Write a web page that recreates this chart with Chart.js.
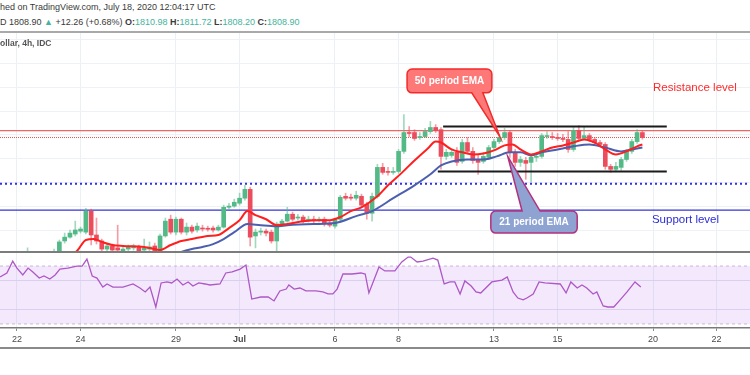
<!DOCTYPE html>
<html>
<head>
<meta charset="utf-8">
<script src="https://cdn.jsdelivr.net/npm/chart.js@4.4.1/dist/chart.umd.min.js"></script>
<style>
  html, body { margin: 0; padding: 0; background: #fff; }
  #wrap { position: relative; width: 750px; height: 375px; overflow: hidden; font-family: "Liberation Sans", Arial, sans-serif; }
  .txt { position: absolute; left: 0; white-space: nowrap; color: #3a3a3a; font-size: 9px; line-height: 12px; }
  .val { color: #45b39d; }
  .sep { position: absolute; left: 0; width: 750px; }
  canvas { position: absolute; left: 0; }
</style>
</head>
<body>
<div id="wrap">
  <div class="txt" style="top:1px">hed on TradingView.com, July 18, 2020 12:04:17 UTC</div>
  <div class="txt" style="top:16px">D 1808.90 <span class="val">&#9650;</span> +12.26 (+0.68%) <b>O:</b><span class="val">1810.98</span> <b>H:</b><span class="val">1811.72</span> <b>L:</b><span class="val">1808.20</span> <b>C:</b><span class="val">1808.90</span></div>
  <div class="sep" style="top:31px;height:2px;background:#a9a9a9"></div>
  <canvas id="main" width="750" height="218" style="top:33px"></canvas>
  <div class="txt" style="top:37px;color:#555;font-weight:bold;font-size:8.5px">ollar, 4h, IDC</div>
  <div class="sep" style="top:251px;height:2px;background:#7c7c7c"></div>
  <canvas id="rsi" width="750" height="96" style="top:253px"></canvas>
  <div class="sep" style="top:347px;height:2px;background:#8a8a8a"></div>
</div>
<script>
// bar index: 6 bars of 4h per trading day, 0 = Jun 22 00:00
const dateLabels = ['22', '24', '29', 'Jul', '6', '8', '13', '15', '20', '22'];
const dateIdx = [0, 12, 30, 42, 60, 72, 90, 102, 120, 132];
const xMin = -3.2, xMax = 138.3;

// candles (XAU/USD 4h)
const open = [1757.2, 1758.9, 1757.2, 1759.3, 1758.1, 1756.4, 1757.7, 1759.7, 1761.0, 1765.6,
  1767.2, 1768.5, 1769.7, 1769.3, 1778.1, 1768.1, 1765.6, 1762.2, 1763.5, 1762.7,
  1761.4, 1762.2, 1762.7, 1763.1, 1761.8, 1762.2, 1763.5, 1761.4, 1767.7, 1774.7,
  1769.3, 1774.7, 1769.3, 1771.4, 1770.2, 1771.0, 1770.6, 1771.0, 1770.2, 1771.4,
  1779.7, 1780.2, 1781.4, 1783.5, 1787.2, 1767.7, 1769.3, 1769.7, 1769.3, 1765.6,
  1772.7, 1773.9, 1776.8, 1775.2, 1775.6, 1774.3, 1774.7, 1774.3, 1774.7, 1773.1,
  1771.8, 1774.7, 1784.3, 1783.9, 1783.5, 1784.3, 1781.0, 1777.2, 1784.3, 1796.4,
  1794.7, 1794.3, 1794.7, 1803.1, 1811.0, 1811.0, 1808.9, 1809.3, 1811.4, 1813.1,
  1812.2, 1801.0, 1801.4, 1802.7, 1798.9, 1806.8, 1803.1, 1799.7, 1798.9, 1800.6,
  1804.7, 1807.2, 1808.9, 1811.0, 1802.7, 1798.5, 1799.3, 1798.5, 1800.6, 1801.0,
  1809.3, 1809.3, 1808.9, 1808.5, 1808.1, 1803.9, 1811.8, 1808.5, 1809.7, 1808.1,
  1806.8, 1806.0, 1796.8, 1795.6, 1796.4, 1799.7, 1803.1, 1807.2, 1810.98];
const high = [1760.2, 1759.7, 1762.7, 1760.6, 1758.9, 1758.5, 1760.6, 1762.2, 1766.0, 1768.9,
  1770.2, 1773.9, 1771.4, 1779.3, 1778.9, 1775.2, 1766.4, 1764.3, 1764.3, 1772.2,
  1763.1, 1763.9, 1764.3, 1763.9, 1766.4, 1765.2, 1764.7, 1768.5, 1775.2, 1776.4,
  1775.6, 1775.2, 1773.1, 1772.2, 1773.1, 1772.2, 1771.8, 1771.8, 1772.2, 1780.6,
  1781.4, 1783.1, 1785.6, 1788.9, 1788.1, 1770.6, 1771.0, 1770.6, 1770.2, 1773.5,
  1774.7, 1779.7, 1777.7, 1776.8, 1776.4, 1776.0, 1776.0, 1775.6, 1775.6, 1773.9,
  1775.2, 1784.7, 1785.6, 1785.2, 1786.4, 1785.2, 1781.8, 1785.6, 1797.7, 1798.1,
  1796.4, 1796.4, 1803.9, 1818.5, 1813.5, 1812.2, 1811.0, 1812.7, 1815.6, 1814.3,
  1813.1, 1803.9, 1803.9, 1804.7, 1808.1, 1808.9, 1804.7, 1801.8, 1802.7, 1805.6,
  1808.1, 1810.2, 1812.7, 1811.8, 1803.9, 1801.0, 1800.6, 1801.4, 1802.2, 1810.6,
  1811.4, 1811.0, 1810.6, 1810.2, 1811.4, 1813.1, 1813.9, 1813.5, 1810.6, 1808.9,
  1807.7, 1806.8, 1797.7, 1798.5, 1800.6, 1803.9, 1808.1, 1812.2, 1811.72];
const low = [1755.6, 1755.6, 1756.4, 1756.8, 1754.7, 1755.2, 1756.8, 1758.9, 1760.6, 1764.7,
  1766.8, 1767.7, 1768.9, 1768.5, 1763.9, 1764.3, 1761.0, 1761.4, 1760.6, 1761.0,
  1760.6, 1761.4, 1761.8, 1760.6, 1761.0, 1761.4, 1760.6, 1760.6, 1767.2, 1768.5,
  1768.1, 1768.5, 1768.1, 1768.9, 1769.3, 1769.7, 1769.7, 1769.3, 1769.7, 1771.0,
  1778.9, 1779.7, 1780.6, 1782.7, 1763.5, 1762.7, 1768.1, 1767.7, 1764.7, 1761.4,
  1771.8, 1773.5, 1773.9, 1774.3, 1773.1, 1773.5, 1773.1, 1773.5, 1771.8, 1771.4,
  1771.0, 1773.9, 1782.7, 1782.7, 1782.7, 1779.7, 1774.7, 1773.9, 1783.5, 1793.5,
  1793.1, 1793.5, 1793.9, 1802.2, 1809.3, 1807.7, 1808.1, 1808.9, 1810.6, 1811.0,
  1795.6, 1799.7, 1800.6, 1797.2, 1798.1, 1802.2, 1798.1, 1793.5, 1798.1, 1799.7,
  1803.9, 1806.4, 1808.1, 1800.6, 1796.8, 1796.8, 1791.4, 1790.2, 1798.9, 1800.2,
  1808.5, 1808.1, 1807.7, 1807.2, 1802.7, 1803.1, 1807.7, 1808.1, 1807.2, 1806.0,
  1805.2, 1795.6, 1794.3, 1794.7, 1795.2, 1798.9, 1802.2, 1806.4, 1808.2];
const close = [1758.9, 1757.2, 1759.3, 1758.1, 1756.4, 1757.7, 1759.7, 1761.0, 1765.2, 1767.2,
  1768.9, 1770.2, 1770.6, 1778.1, 1768.1, 1765.6, 1762.2, 1763.5, 1761.8, 1761.8,
  1762.2, 1763.1, 1763.5, 1761.4, 1762.7, 1763.1, 1761.4, 1767.7, 1773.9, 1769.3,
  1774.7, 1769.3, 1771.4, 1769.7, 1771.8, 1770.6, 1770.5, 1770.2, 1771.4, 1779.7,
  1780.2, 1781.8, 1783.5, 1787.2, 1767.2, 1769.3, 1769.7, 1768.9, 1765.6, 1772.7,
  1773.9, 1776.8, 1774.7, 1775.6, 1773.9, 1774.7, 1774.3, 1774.4, 1772.7, 1772.2,
  1774.7, 1783.9, 1783.5, 1783.5, 1784.7, 1780.6, 1777.2, 1784.3, 1796.4, 1794.3,
  1794.3, 1794.7, 1803.1, 1811.0, 1810.6, 1808.5, 1809.3, 1811.4, 1813.1, 1811.8,
  1801.0, 1802.7, 1802.7, 1798.5, 1806.8, 1803.1, 1799.3, 1798.5, 1801.0, 1804.7,
  1807.2, 1808.9, 1811.0, 1802.7, 1798.5, 1799.7, 1798.1, 1800.6, 1801.0, 1809.7,
  1809.4, 1808.9, 1808.5, 1808.1, 1803.9, 1811.8, 1808.5, 1809.7, 1808.1, 1806.8,
  1806.0, 1796.8, 1795.6, 1796.8, 1799.7, 1803.1, 1807.2, 1811.0, 1808.9];

// moving averages, read at their turning points (bar index, price)
const emaRedX = [0, 6, 11.3, 13, 14.5, 16, 18, 20, 24, 26, 27, 29, 31, 33, 36, 38, 40, 42, 43.5, 45, 47, 49,
  51, 54, 57, 59, 61, 63, 65, 68, 70, 72.5, 75, 77.5, 79, 80, 82, 84, 86, 88, 90, 92, 93.5, 95, 97,
  99, 101, 103, 105, 107, 109, 111, 113, 115, 117, 118];
const emaRedY = [1754.7, 1756.8, 1761.4, 1766.0, 1766.4, 1765.2, 1763.9, 1763.5, 1763.1, 1762.2, 1761.8,
  1763.9, 1765.6, 1766.4, 1767.7, 1768.1, 1771.0, 1774.3, 1778.1, 1776.4, 1774.7, 1772.2, 1772.7, 1773.9,
  1774.3, 1774.3, 1775.6, 1778.1, 1779.7, 1784.3, 1788.9, 1793.9, 1799.3, 1804.3, 1807.2, 1806.8, 1803.9,
  1802.7, 1801.8, 1802.2, 1803.5, 1805.6, 1806.0, 1803.9, 1801.8, 1803.1, 1804.7, 1805.6, 1806.8, 1808.1,
  1806.8, 1803.9, 1801.8, 1803.1, 1805.2, 1806.0];
const emaBlueX = [20, 29, 31, 33, 35, 37, 39, 41, 43.5, 46, 49, 51, 56, 60, 64, 67, 71, 75, 78, 80, 82, 85,
  88, 90.5, 93, 95, 97, 99, 102, 105, 108, 111, 114, 116, 118];
const emaBlueY = [1753.9, 1759.3, 1761.0, 1762.2, 1763.1, 1764.3, 1766.4, 1769.3, 1772.7, 1772.2, 1771.8,
  1772.2, 1772.7, 1773.1, 1776.0, 1778.1, 1783.5, 1788.9, 1793.5, 1797.2, 1798.9, 1799.7, 1799.7, 1801.0,
  1802.7, 1802.7, 1801.4, 1802.7, 1803.9, 1805.2, 1806.0, 1804.7, 1803.1, 1803.9, 1804.7];

// RSI(14), read at its vertices
const rsiX = [-3.2, -1.9, -0.8, 0, 1.1, 2.1, 3, 4.2, 5.1, 6.2, 7.2, 8.1, 9.6, 11.3, 12.3, 13.2, 14.2, 15.1,
  16.2, 17, 18.1, 20, 21.9, 23.2, 24.2, 25.1, 26.2, 27.2, 28.3, 29.2, 30.2, 31.3, 32.3, 33.2, 34.3, 35.5,
  36.4, 38.3, 39.4, 40.6, 42.1, 43.2, 44.3, 46, 47.4, 48.5, 49.6, 50.8, 51.3, 52.3, 53.4, 54.5, 56.4, 57.7,
  58.7, 59.6, 60.4, 61.5, 63.2, 64.9, 65.7, 66.4, 68.3, 69.4, 71.3, 72.6, 73.8, 74.3, 75.5, 76.6, 78.5,
  79.4, 80.6, 81.7, 82.6, 83.6, 84.5, 85.7, 86.6, 87.5, 89.6, 91.5, 92.5, 93.6, 94.5, 95.5, 96.2, 97.4,
  98.5, 99.6, 102.5, 103.6, 104.5, 105.7, 106.6, 107.5, 108.7, 109.4, 110.6, 111.5, 112.6, 113.8, 115.1,
  116.6, 117.7];
const rsiY = [62.4, 65.2, 73.4, 68.6, 63.8, 68.6, 65.9, 61.7, 63.1, 61.0, 63.8, 67.9, 68.6, 70.0, 70.0, 74.8,
  63.1, 61.7, 55.5, 57.6, 55.5, 55.5, 57.6, 54.8, 52.1, 55.5, 41.7, 58.3, 59.0, 58.3, 61.0, 56.9, 59.0,
  56.2, 58.3, 57.6, 56.9, 57.6, 65.2, 65.9, 67.9, 70.7, 47.2, 48.6, 48.6, 45.9, 52.8, 54.1, 56.9, 54.1,
  54.8, 52.8, 52.8, 52.1, 50.7, 50.7, 54.1, 64.5, 64.5, 65.2, 64.5, 51.4, 69.3, 66.6, 66.6, 72.8, 76.2,
  76.2, 72.8, 73.4, 75.5, 74.1, 57.6, 59.0, 59.0, 50.7, 59.7, 56.2, 52.1, 51.4, 59.0, 60.3, 62.4, 52.1,
  47.9, 46.6, 47.9, 50.7, 59.0, 58.3, 57.6, 51.4, 59.0, 54.8, 56.9, 54.8, 50.7, 52.1, 42.4, 41.7, 41.7,
  46.6, 52.1, 59.0, 55.5];

// drawn levels
const resistanceLevel = 1811.8;
const lastPrice = 1808.9;
const pivotLevel = 1789.5;
const supportLevel = 1778.5;
const channelTop = 1813.5, channelBottom = 1794.7;
const channelTopStart = 80.4, channelBottomStart = 79.4, channelEnd = 122.6;
const priceGrid = [1770, 1780, 1790, 1800, 1810, 1820, 1830, 1840, 1850];

const upBody = '#53b987', downBody = '#eb4d5c';
const upWick = 'rgba(83,185,135,0.55)', downWick = 'rgba(235,77,92,0.55)';
const font = '"Liberation Sans", Arial, sans-serif';

const idx = open.map((_, i) => i);
const pts = (xs, ys) => xs.map((x, i) => ({x: x, y: ys[i]}));
const flat = (v, a, b) => [{x: a, y: v}, {x: b, y: v}];
const isUp = i => close[i] >= open[i];

function callout(ctx, x, y, n, fill, stroke) {
  const x1 = x.getPixelForValue(n.from[0]), y1 = y.getPixelForValue(n.from[1]);
  const x2 = x.getPixelForValue(n.to[0]), y2 = y.getPixelForValue(n.to[1]);
  const b1 = x.getPixelForValue(n.base[0]), b2 = x.getPixelForValue(n.base[1]);
  const tx = x.getPixelForValue(n.tip[0]), ty = y.getPixelForValue(n.tip[1]);
  const r = 5;
  ctx.beginPath();
  ctx.moveTo(x1 + r, y1);
  if (n.side === 'top') { ctx.lineTo(b1, y1); ctx.lineTo(tx, ty); ctx.lineTo(b2, y1); }
  ctx.lineTo(x2 - r, y1);
  ctx.arcTo(x2, y1, x2, y1 + r, r);
  ctx.lineTo(x2, y2 - r);
  ctx.arcTo(x2, y2, x2 - r, y2, r);
  if (n.side === 'bottom') { ctx.lineTo(b2, y2); ctx.lineTo(tx, ty); ctx.lineTo(b1, y2); }
  ctx.lineTo(x1 + r, y2);
  ctx.arcTo(x1, y2, x1, y2 - r, r);
  ctx.lineTo(x1, y1 + r);
  ctx.arcTo(x1, y1, x1 + r, y1, r);
  ctx.closePath();
  ctx.fillStyle = fill;
  ctx.fill();
  ctx.lineWidth = 1.5;
  ctx.strokeStyle = stroke;
  ctx.stroke();
  ctx.fillStyle = '#fff';
  ctx.font = 'bold 10px ' + font;
  ctx.textAlign = 'center';
  ctx.textBaseline = 'middle';
  ctx.fillText(n.text, (x1 + x2) / 2, (y1 + y2) / 2 + 0.5);
}

const note50 = {text: '50 period EMA', from: [73.6, 1837.6], to: [89.6, 1827.6], base: [85.8, 87.9], tip: [91.1, 1809.3], side: 'bottom'};
const note21 = {text: '21 period EMA', from: [89.4, 1778.1], to: [105.7, 1768.9], base: [95.3, 98.7], tip: [92.6, 1801.0], side: 'top'};
const resistText = {text: 'Resistance level', at: [120, 1829.7]};
const supportText = {text: 'Support level', at: [119.8, 1774.3]};

const notesPlugin = {
  id: 'tvNotes',
  afterDatasetsDraw(chart) {
    const {ctx, scales: {x, y}} = chart;
    ctx.save();
    ctx.font = '11.5px ' + font;
    ctx.textBaseline = 'middle';
    ctx.textAlign = 'left';
    ctx.fillStyle = '#ff2a2a';
    ctx.fillText(resistText.text, x.getPixelForValue(resistText.at[0]), y.getPixelForValue(resistText.at[1]));
    ctx.fillStyle = '#2b2bd6';
    ctx.fillText(supportText.text, x.getPixelForValue(supportText.at[0]), y.getPixelForValue(supportText.at[1]));
    callout(ctx, x, y, note50, '#ff7878', '#f22a2a');
    callout(ctx, x, y, note21, '#8ea3d2', '#b3307e');
    ctx.restore();
  }
};

const hiddenX = {
  type: 'linear', min: xMin, max: xMax, offset: false,
  ticks: {display: false},
  grid: {color: '#ebf0f5', drawTicks: false, offset: false},
  border: {display: false},
  afterBuildTicks: s => { s.ticks = dateIdx.map(v => ({value: v})); },
  afterFit: s => { s.height = 0; }
};

new Chart(document.getElementById('main'), {
  type: 'bar',
  data: {
    datasets: [
      {type: 'line', data: pts(emaRedX, emaRedY), borderColor: '#ff1f1f', borderWidth: 2, pointRadius: 0, cubicInterpolationMode: 'monotone', order: 0},
      {type: 'line', data: pts(emaBlueX, emaBlueY), borderColor: '#4c5fae', borderWidth: 2, pointRadius: 0, cubicInterpolationMode: 'monotone', order: 0},
      {type: 'line', data: flat(channelTop, channelTopStart, channelEnd), borderColor: '#1b1b1b', borderWidth: 2, pointRadius: 0, order: 0},
      {type: 'line', data: flat(channelBottom, channelBottomStart, channelEnd), borderColor: '#1b1b1b', borderWidth: 2, pointRadius: 0, order: 0},
      {type: 'line', data: flat(resistanceLevel, xMin, xMax), borderColor: '#f26565', borderWidth: 1.3, pointRadius: 0, order: 3},
      {type: 'line', data: flat(lastPrice, xMin, xMax), borderColor: '#f05050', borderWidth: 1, borderDash: [1, 1], pointRadius: 0, order: 3},
      {type: 'line', data: flat(pivotLevel, xMin, xMax), borderColor: '#2f2fee', borderWidth: 2, borderDash: [2, 3], pointRadius: 0, order: 3},
      {type: 'line', data: flat(supportLevel, xMin, xMax), borderColor: '#3434d4', borderWidth: 1.3, pointRadius: 0, order: 3},
      {data: idx.map(i => ({x: i, y: [low[i], high[i]]})), backgroundColor: c => isUp(c.dataIndex) ? upWick : downWick,
        barThickness: 1, grouped: false, order: 2},
      {data: idx.map(i => ({x: i, y: [open[i], close[i]]})), backgroundColor: c => isUp(c.dataIndex) ? upBody : downBody,
        barThickness: 4, minBarLength: 1, grouped: false, order: 1}
    ]
  },
  options: {
    responsive: false, animation: false, devicePixelRatio: 1,
    layout: {padding: 0},
    plugins: {legend: {display: false}, tooltip: {enabled: false}},
    scales: {
      x: hiddenX,
      y: {
        min: 1761.4, max: 1852.65,
        ticks: {display: false},
        grid: {color: '#eef1f6', drawTicks: false},
        border: {display: false},
        afterBuildTicks: s => { s.ticks = priceGrid.map(v => ({value: v})); },
        afterFit: s => { s.width = 0; }
      }
    }
  },
  plugins: [notesPlugin]
});

new Chart(document.getElementById('rsi'), {
  type: 'line',
  data: {
    datasets: [
      {data: pts(rsiX, rsiY), borderColor: '#ad58c5', borderWidth: 1.3, pointRadius: 0, order: 0},
      {data: flat(70, xMin, xMax), borderColor: '#c9b7d8', borderWidth: 1, borderDash: [3, 3], pointRadius: 0, order: 1},
      {data: flat(30, xMin, xMax), borderColor: '#c9b7d8', borderWidth: 1, borderDash: [3, 3], pointRadius: 0,
        fill: '-1', backgroundColor: 'rgba(170,80,240,0.13)', order: 1}
    ]
  },
  options: {
    responsive: false, animation: false, devicePixelRatio: 1,
    layout: {padding: 0},
    plugins: {legend: {display: false}, tooltip: {enabled: false}},
    scales: {
      x: {
        type: 'linear', min: xMin, max: xMax,
        grid: {color: '#ebf0f5', tickColor: '#888', tickLength: 3},
        border: {display: true, color: '#7a7a7a', width: 1.5},
        ticks: {
          autoSkip: false, maxRotation: 0, padding: 3, color: '#4a4a4a',
          font: c => ({family: font, size: 9, weight: c.tick && c.tick.label === 'Jul' ? 'bold' : 'normal'}),
          callback: v => dateLabels[dateIdx.indexOf(v)]
        },
        afterBuildTicks: s => { s.ticks = dateIdx.map(v => ({value: v})); },
        afterFit: s => { s.height = 21; }
      },
      y: {
        min: 27.2, max: 79,
        ticks: {display: false},
        grid: {color: '#dfe4ee', drawTicks: false},
        border: {display: false},
        afterBuildTicks: s => { s.ticks = [40, 60].map(v => ({value: v})); },
        afterFit: s => { s.width = 0; }
      }
    }
  }
});
</script>
</body>
</html>
